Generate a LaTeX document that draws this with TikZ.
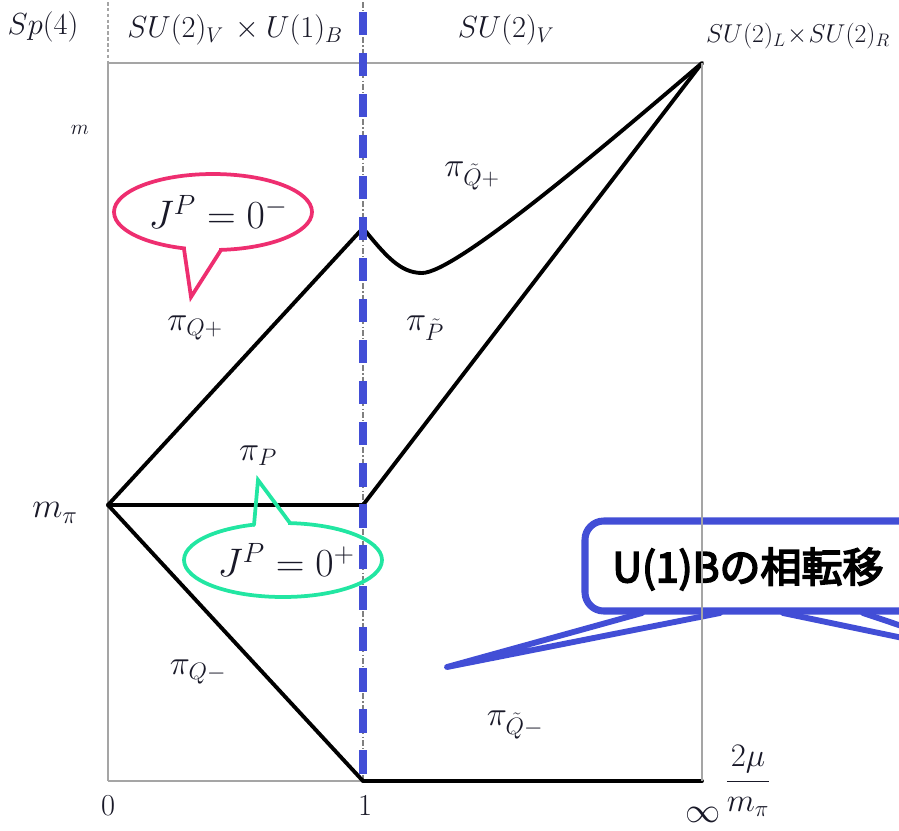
\RequirePackage{fix-cm}
\documentclass[tikz,border=0pt]{standalone}
\usepackage{fontspec}
\newfontfamily\cjkfont[FakeBold=4]{Noto Sans CJK JP}
\definecolor{cblue}{RGB}{66,78,214}
\definecolor{cpink}{RGB}{238,46,112}
\definecolor{cgreen}{RGB}{34,230,162}
\definecolor{framegray}{RGB}{165,165,165}
\definecolor{ink}{RGB}{25,25,40}
\newcommand\myfs[1]{\fontsize{#1}{#1}\selectfont}
\begin{document}
\begin{tikzpicture}[x=0.03cm,y=-0.03cm,
  frameline/.style={draw=framegray, line width=1.1pt},
  curve/.style={draw=black, line width=3.3pt, line join=round, line cap=round},
  lbl/.style={text=ink, inner sep=0pt},
  toplbl/.style={lbl, font=\myfs{26}},
  pilbl/.style={lbl, font=\myfs{29}},
  axlbl/.style={lbl, font=\myfs{26}},
  bubtext/.style={lbl, font=\myfs{34}},
  phase/.style={draw=cblue, line width=6pt, dash pattern=on 20pt off 15pt},
  bubline/.style={line width=3.2pt, line join=round, line cap=round}
]
\useasboundingbox (0,0) rectangle (899,830);
\clip (0,0) rectangle (899,830);

% frame
\coordinate (TL) at (108,63);
\coordinate (TR) at (702,63);
\coordinate (BL) at (108,781);
\coordinate (BR) at (702,781);
\coordinate (Ltop) at (108,2);
\coordinate (Ctop) at (363,2);
\coordinate (Cbot) at (363,781);
\draw[frameline] (BL) -- (TL) -- (TR) -- (BR) -- (BL);
\draw[draw=framegray, line width=1pt, dash pattern=on 3pt off 2pt] (Ltop) -- (TL);
\draw[draw=gray, line width=0.9pt, dash pattern=on 5pt off 2pt on 1pt off 2pt] (Ctop) -- (Cbot);

% spectrum lines
\coordinate (O) at (108,505);
\coordinate (A) at (363,228);
\coordinate (B) at (363,505);
\coordinate (C) at (363,781);
\coordinate (Min) at (422,273);
\draw[curve] (O) -- (A);
\draw[curve] (O) -- (B);
\draw[curve] (O) -- (C);
\draw[curve] (C) -- (BR);
\draw[curve] (B) -- (TR);
\draw[curve] (A) .. controls (385,255) and (400,273) .. (Min) .. controls (455,273) and (600,150) .. (TR);

% phase boundary
\coordinate (Ptop) at (363,12);
\draw[phase] (Ptop) -- (Cbot);

% top labels
\node[toplbl] (sp4) at (43,27) {$Sp(4)$};
\node[toplbl] (g1) at (235,30) {$SU(2)_V\,\times U(1)_B$};
\node[toplbl] (g2) at (506,30) {$SU(2)_V$};
\node[toplbl, font=\myfs{22}] (g3) at (798,36) {$SU(2)_L\!\times\! SU(2)_R$};

% axis labels
\node[lbl, font=\myfs{18}] (m) at (80,130) {$m$};
\node[lbl, font=\myfs{30}] (mpi) at (55,513) {$m_\pi$};
\node[axlbl] (zero) at (108,806) {$0$};
\node[axlbl] (one) at (365,806) {$1$};
\node[axlbl, font=\myfs{30}] (inf) at (703,815) {$\infty$};
\node[axlbl, font=\myfs{28}] (frac) at (748,781) {$\displaystyle\frac{2\mu}{m_\pi}$};

% particle labels
\node[pilbl] (pQp) at (195,328) {$\pi_{Q+}$};
\node[pilbl] (pP) at (258,456) {$\pi_P$};
\node[pilbl] (pQtp) at (472,176) {$\pi_{\tilde Q+}$};
\node[pilbl] (pPt) at (425,328) {$\pi_{\tilde P}$};
\node[pilbl] (pQm) at (198,672) {$\pi_{Q-}$};
\node[pilbl] (pQtm) at (515,725) {$\pi_{\tilde Q-}$};

% pink bubble
\draw[cpink, bubline] (213,212) ellipse [x radius=99, y radius=38];
\fill[white] (186,243) rectangle (219,256);
\coordinate (pk1) at (184,249);
\coordinate (pktip) at (191,297);
\coordinate (pk2) at (221,250);
\draw[cpink, bubline, line join=miter] (pk1) -- (pktip) -- (pk2);
\node[bubtext] (jm) at (218,212) {$J^P=0^-$};

% green bubble
\draw[cgreen, bubline] (283,560) ellipse [x radius=99, y radius=37];
\fill[white] (255,517) rectangle (288,530);
\coordinate (gr1) at (254,525);
\coordinate (grtip) at (258,480);
\coordinate (gr2) at (290,523);
\draw[cgreen, bubline, line join=miter] (gr1) -- (grtip) -- (gr2);
\node[bubtext] (jp) at (286,560) {$J^P=0^+$};

% blue callout
\draw[cblue, line width=6pt, rounded corners=16] (585,521) rectangle (980,611);
\coordinate (bt1) at (642,613);
\coordinate (bttip) at (447,667);
\coordinate (bt2) at (720,613);
\coordinate (bt3) at (783,613);
\coordinate (bttip2) at (994,657);
\coordinate (bt4) at (863,613);
\draw[cblue, line width=5pt, line join=round, line cap=round] (bt1) -- (bttip) -- (bt2);
\draw[cblue, line width=5pt, line join=round, line cap=round] (bt3) -- (bttip2) -- (bt4);
\node[inner sep=0pt, text=black, font=\cjkfont\myfs{35}] (u1b) at (748,569) {U(1)Bの相転移};

% frame line on top of callout
\draw[frameline] (TR) -- (BR);
\end{tikzpicture}
\end{document}
